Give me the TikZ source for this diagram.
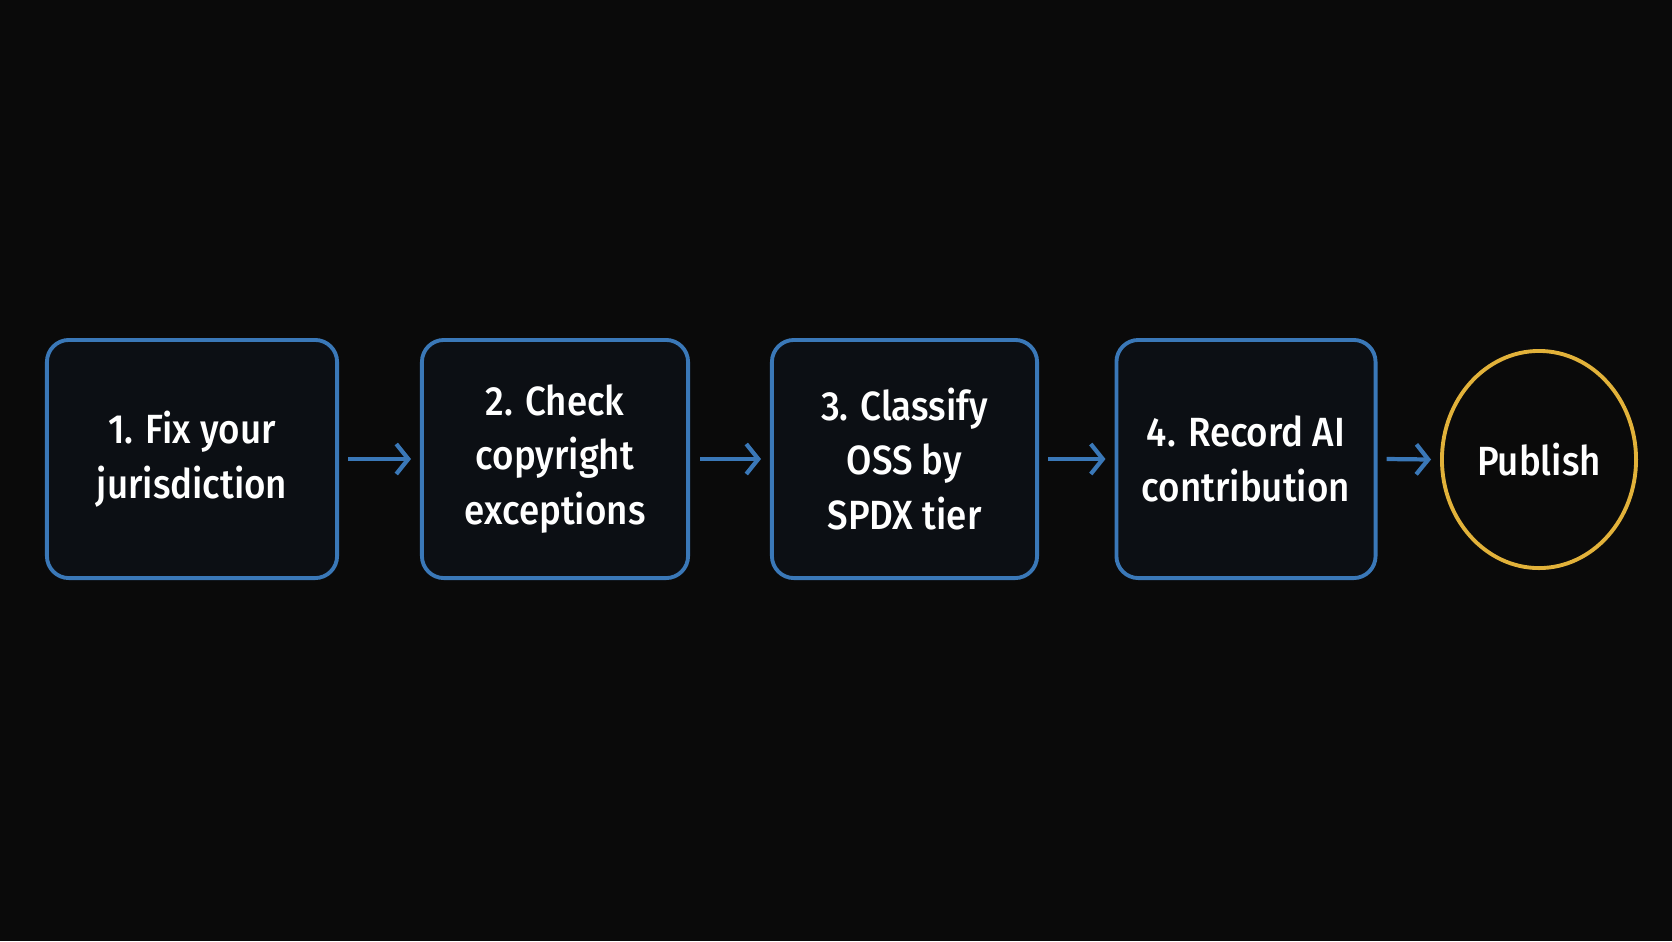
\documentclass[tikz,border=0pt]{standalone}
\usepackage{fontspec}
\setmainfont{Fira Sans}[FakeStretch=0.9, BoldFont={Fira Sans Medium}, BoldFeatures={FakeStretch=0.9}]
\usetikzlibrary{arrows.meta,shapes.geometric}
\definecolor{bg}{HTML}{0A0A0A}
\definecolor{boxfill}{HTML}{0C0F14}
\definecolor{edgeblue}{HTML}{3A78B8}
\definecolor{gold}{HTML}{E2B23A}
\tikzset{
  stepbox/.style={draw=edgeblue, fill=boxfill, line width=1.1pt, rounded corners=0.22cm,
    text=white, align=center, font=\fontsize{11.6pt}{15.6pt}\selectfont\bfseries,
    minimum height=2.38cm, inner sep=0pt},
  endnode/.style={draw=gold, ellipse, line width=1.1pt, fill=bg, text=white,
    font=\fontsize{11.6pt}{15.6pt}\selectfont\bfseries, minimum width=1.94cm, minimum height=2.17cm, inner sep=0pt},
  flow/.style={draw=edgeblue, line width=1.2pt, -{Straight Barb[length=0.12cm,width=0.3cm,line width=1.2pt]}}
}
\begin{document}
\begin{tikzpicture}[x=0.01cm,y=-0.01cm]
\fill[bg] (0,0) rectangle (1672,941);
\useasboundingbox (0,0) rectangle (1672,941);
\node[stepbox, minimum width=2.90cm] (s1) at (192,459) {1. Fix your\\jurisdiction};
\node[stepbox, minimum width=2.66cm] (s2) at (555,459) {2. Check\\copyright\\exceptions};
\node[stepbox, minimum width=2.65cm] (s3) at (904.5,459) {3. Classify\\OSS by\\SPDX tier};
\node[stepbox, minimum width=2.59cm] (s4) at (1246,459) {4. Record AI\\contribution};
\node[endnode] (pub) at (1539,459.5) {Publish};
\draw[flow] ([xshift=0.09cm]s1.east) -- ([xshift=-0.09cm]s2.west);
\draw[flow] ([xshift=0.10cm]s2.east) -- ([xshift=-0.09cm]s3.west);
\draw[flow] ([xshift=0.09cm]s3.east) -- ([xshift=-0.09cm]s4.west);
\draw[flow] ([xshift=0.09cm]s4.east) -- ([xshift=-0.09cm]pub.west);
\end{tikzpicture}
\end{document}
